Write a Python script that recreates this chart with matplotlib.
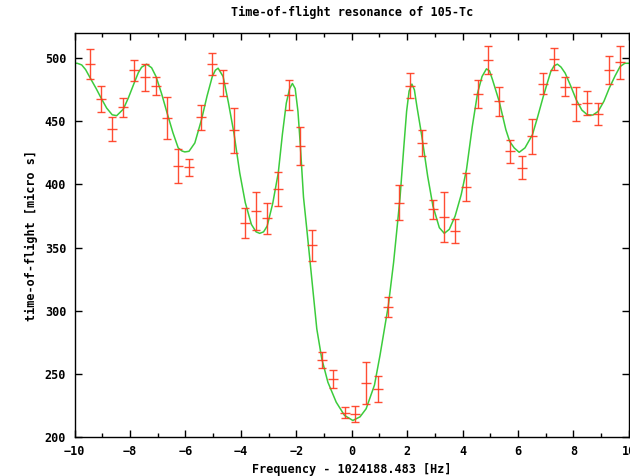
# Time-of-flight resonance of 105-Tc, gnuplot-like look

import numpy as np
import matplotlib
matplotlib.use("Agg")
import matplotlib.pyplot as plt
from matplotlib.ticker import MultipleLocator

# DATA -----------------------------------------------

freq = [-9.43, -9.04, -8.64, -8.24, -7.85, -7.45, -7.06, -6.66, -6.26, -5.87,
        -5.42, -5.03, -4.64, -4.25, -3.84, -3.44, -3.05, -2.65, -2.25, -1.86,
        -1.44, -1.07, -0.67, -0.26, 0.13, 0.53, 0.93, 1.32, 1.72, 2.11,
        2.53, 2.93, 3.34, 3.73, 4.14, 4.54, 4.92, 5.32, 5.72, 6.13,
        6.52, 6.91, 7.31, 7.70, 8.10, 8.50, 8.89, 9.29, 9.68]

tof = [495.3, 467.9, 444.0, 461.0, 490.5, 485.0, 478.0, 452.6, 414.4, 413.6,
       453.1, 495.3, 480.3, 442.9, 369.5, 378.8, 373.2, 396.4, 470.8, 430.5,
       351.8, 261.3, 246.1, 219.3, 218.2, 242.9, 238.2, 302.7, 385.6, 478.4,
       432.6, 380.3, 374.2, 363.2, 397.9, 471.6, 498.4, 465.8, 426.3, 413.2,
       438.1, 479.7, 499.4, 477.6, 463.9, 464.5, 455.8, 490.5, 496.8]

tof_err = [12.0, 10.3, 9.2, 7.6, 8.4, 10.7, 7.5, 16.6, 13.6, 6.6,
           10.0, 8.9, 10.1, 17.8, 11.8, 15.0, 12.4, 13.4, 11.7, 14.7,
           12.2, 6.3, 7.0, 4.5, 6.1, 16.4, 10.3, 8.0, 14.0, 9.9,
           10.3, 7.5, 20.1, 9.3, 11.0, 10.9, 11.2, 11.8, 9.2, 9.1,
           14.1, 8.3, 9.1, 7.5, 13.6, 9.6, 8.8, 10.9, 12.9]

# fit curve
fit_x = [-10.0, -9.9, -9.74, -9.6, -9.43, -9.22, -9.04, -8.84, -8.64, -8.48,
         -8.24, -8.05, -7.85, -7.7, -7.58, -7.4, -7.22, -7.06, -6.86, -6.66,
         -6.45, -6.26, -6.12, -6.02, -5.87, -5.66, -5.42, -5.22, -5.03, -4.92,
         -4.82, -4.64, -4.45, -4.25, -4.04, -3.84, -3.62, -3.45, -3.32, -3.18,
         -3.05, -2.85, -2.65, -2.5, -2.36, -2.24, -2.14, -2.04, -1.94, -1.86, -1.74,
         -1.62, -1.5, -1.38, -1.26, -1.08, -0.86, -0.56, -0.26, 0.04, 0.3,
         0.52, 0.82, 1.02, 1.32, 1.51, 1.63, 1.74, 1.88, 1.98, 2.07,
         2.17, 2.26, 2.35, 2.53, 2.74, 2.93, 3.16, 3.34, 3.52, 3.73,
         3.95, 4.14, 4.35, 4.54, 4.7, 4.86, 4.97, 5.08, 5.32, 5.56,
         5.7, 5.86, 6.04, 6.25, 6.52, 6.7, 6.91, 7.05, 7.18, 7.3,
         7.42, 7.55, 7.7, 7.9, 8.1, 8.3, 8.5, 8.7, 8.89, 9.1,
         9.29, 9.5, 9.68, 9.85, 10.0]
fit_y = [496.0, 496.0, 494.7, 491.0, 484.2, 476.0, 468.4, 460.5, 455.2, 454.5,
         459.7, 469.0, 480.3, 488.5, 492.9, 495.3, 492.5, 485.5, 472.0, 456.6,
         441.0, 429.0, 426.5, 425.8, 426.3, 432.9, 451.3, 470.0, 485.5, 490.5,
         492.1, 485.5, 465.0, 440.8, 409.2, 385.6, 368.4, 362.5, 361.3, 362.5,
         367.1, 385.0, 409.2, 440.0, 464.5, 476.0, 480.0, 476.0, 458.0, 433.0, 390.0,
         364.5, 338.2, 311.9, 285.6, 261.9, 243.4, 227.6, 217.1, 213.1, 216.0,
         222.4, 241.1, 264.7, 304.0, 338.2, 364.5, 389.0, 430.0, 458.0, 474.0,
         479.5, 475.0, 462.0, 438.1, 406.5, 382.9, 365.8, 361.3, 364.5, 375.0,
         392.0, 411.8, 446.0, 472.4, 485.5, 491.6, 490.0, 482.9, 465.8, 443.4,
         434.0, 429.0, 425.5, 429.0, 439.5, 453.0, 469.7, 480.0, 489.4, 494.0,
         495.3, 493.0, 488.2, 478.0, 467.1, 459.0, 455.2, 455.0, 457.9, 466.0,
         476.3, 486.0, 493.4, 496.0, 496.0]

# PLOT -----------------------------------------------

plt.rcParams['font.family'] = ['DejaVu Sans Mono']
plt.rcParams['font.weight'] = 'bold'

fig = plt.figure(figsize=(6.30, 4.76), dpi=100)
ax = fig.add_axes([0.1183, 0.0819, 0.880, 0.8488])

ax.plot(fit_x, fit_y, color='#3ccc3c', lw=1.1, zorder=2)
ax.errorbar(freq, tof, yerr=tof_err, fmt='_', color='#ff3a1e', ecolor='#ff3a1e',
            elinewidth=1.0, capsize=3.2, capthick=1.0, markersize=7,
            markeredgewidth=1.0, alpha=0.9, zorder=3)

ax.set_xlim(-10, 10)
ax.set_ylim(200, 520)
ax.xaxis.set_major_locator(MultipleLocator(2))
ax.xaxis.set_minor_locator(MultipleLocator(1))
ax.set_yticks([200, 250, 300, 350, 400, 450, 500])

ax.tick_params(which='both', direction='in', top=True, right=True, labelsize=8.5, width=1)
ax.tick_params(which='major', length=5, pad=6)
ax.tick_params(which='minor', length=3)
for spine in ax.spines.values():
    spine.set_linewidth(1.0)

ax.set_title('Time-of-flight resonance of 105-Tc', fontsize=8.5, fontweight='bold', pad=12)
ax.set_xlabel('Frequency - 1024188.483 [Hz]', fontsize=8.5, fontweight='bold', labelpad=3)
ax.set_ylabel('time-of-flight [micro s]', fontsize=8.5, fontweight='bold', labelpad=5)

fig.savefig('out.png', dpi=100)
